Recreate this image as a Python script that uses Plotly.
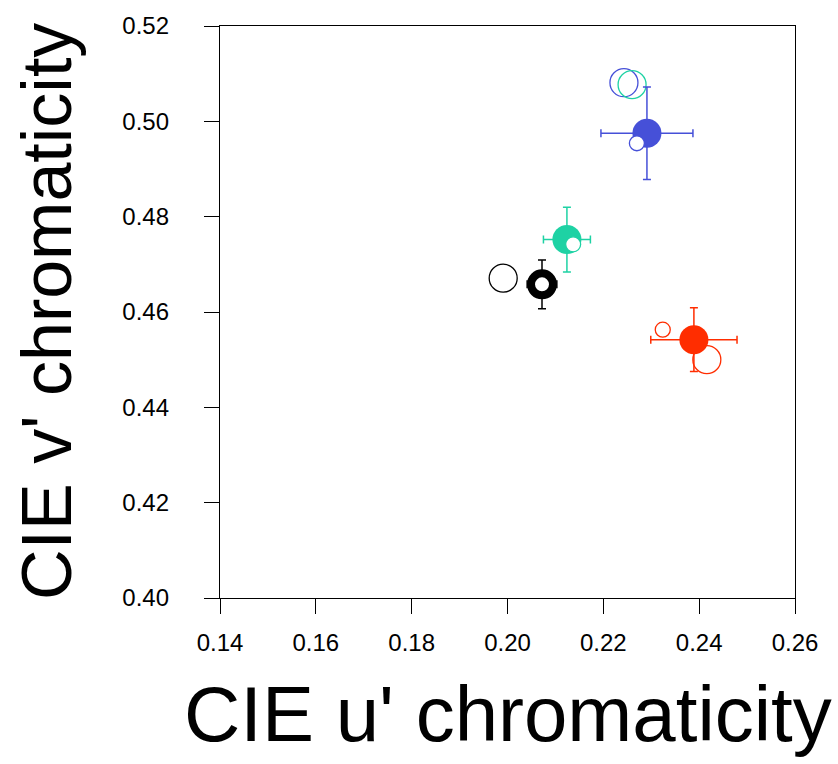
import plotly.graph_objects as go

# Chromaticity coordinates (u', v') for each stimulus colour
colors = ["#4650D8", "#1ED2A4", "#000000", "#FF2D00"]

# Reference (large open) points
ref_u = [0.2243, 0.2260, 0.1991, 0.2416]
ref_v = [0.5081, 0.5077, 0.4671, 0.4500]

# Measured means with standard deviations
mean_u = [0.2291, 0.2124, 0.2072, 0.2389]
mean_v = [0.4975, 0.4752, 0.4658, 0.4542]
err_u = [0.0096, 0.0049, 0.0031, 0.0090]
err_v = [0.0097, 0.0068, 0.0051, 0.0067]

# Small open points
small_u = [0.2270, 0.2137, 0.2324]
small_v = [0.4954, 0.4742, 0.4563]
small_colors = ["#4650D8", "#1ED2A4", "#FF2D00"]

x_ticks = [0.14, 0.16, 0.18, 0.20, 0.22, 0.24, 0.26]
y_ticks = [0.40, 0.42, 0.44, 0.46, 0.48, 0.50, 0.52]

fig = go.Figure()

# large open reference circles
for u, v, c in zip(ref_u, ref_v, colors):
    fig.add_trace(go.Scatter(
        x=[u], y=[v], mode="markers",
        marker=dict(size=28, color="rgba(0,0,0,0)", line=dict(color=c, width=1.3)),
        hoverinfo="skip"))

# means with error bars
for u, v, eu, ev, c in zip(mean_u, mean_v, err_u, err_v, colors):
    if c == "#000000":
        marker = dict(size=22, color="white", line=dict(color=c, width=8))
    else:
        marker = dict(size=29, color=c, line=dict(color=c, width=0))
    fig.add_trace(go.Scatter(
        x=[u], y=[v], mode="markers", marker=marker,
        error_x=dict(type="data", array=[eu], color=c, thickness=1.5, width=4),
        error_y=dict(type="data", array=[ev], color=c, thickness=1.5, width=4),
        hoverinfo="skip"))

# small open circles
for u, v, c in zip(small_u, small_v, small_colors):
    fig.add_trace(go.Scatter(
        x=[u], y=[v], mode="markers",
        marker=dict(size=15, color="white", line=dict(color=c, width=1.3)),
        hoverinfo="skip"))

axis_common = dict(
    showgrid=False, zeroline=False, showline=True, linecolor="black",
    linewidth=1.3, mirror=True, ticks="outside", ticklen=15, tickwidth=1,
    tickcolor="black", tickfont=dict(family="Liberation Sans, Arial", size=24, color="black"),
    tickformat=".2f",
)

fig.update_xaxes(range=[0.14, 0.26], tickvals=x_ticks, ticklabelstandoff=8, **axis_common)
fig.update_yaxes(range=[0.40, 0.52], tickvals=y_ticks, ticklabelstandoff=30, **axis_common)

fig.add_annotation(text="CIE u' chromaticity", xref="paper", yref="paper",
                   x=0.5, y=0, xanchor="center", yanchor="middle", yshift=-116,
                   showarrow=False,
                   font=dict(family="Liberation Sans, Arial", size=78, color="black"))
fig.add_annotation(text="CIE v' chromaticity", xref="paper", yref="paper",
                   x=0, y=0.5, xanchor="center", yanchor="middle", xshift=-173,
                   textangle=-90, showarrow=False,
                   font=dict(family="Liberation Sans, Arial", size=70, color="black"))

fig.update_layout(
    width=838, height=764,
    margin=dict(l=220, r=43, t=22, b=166),
    paper_bgcolor="white", plot_bgcolor="white",
    showlegend=False,
)

fig.write_html("out.html")
